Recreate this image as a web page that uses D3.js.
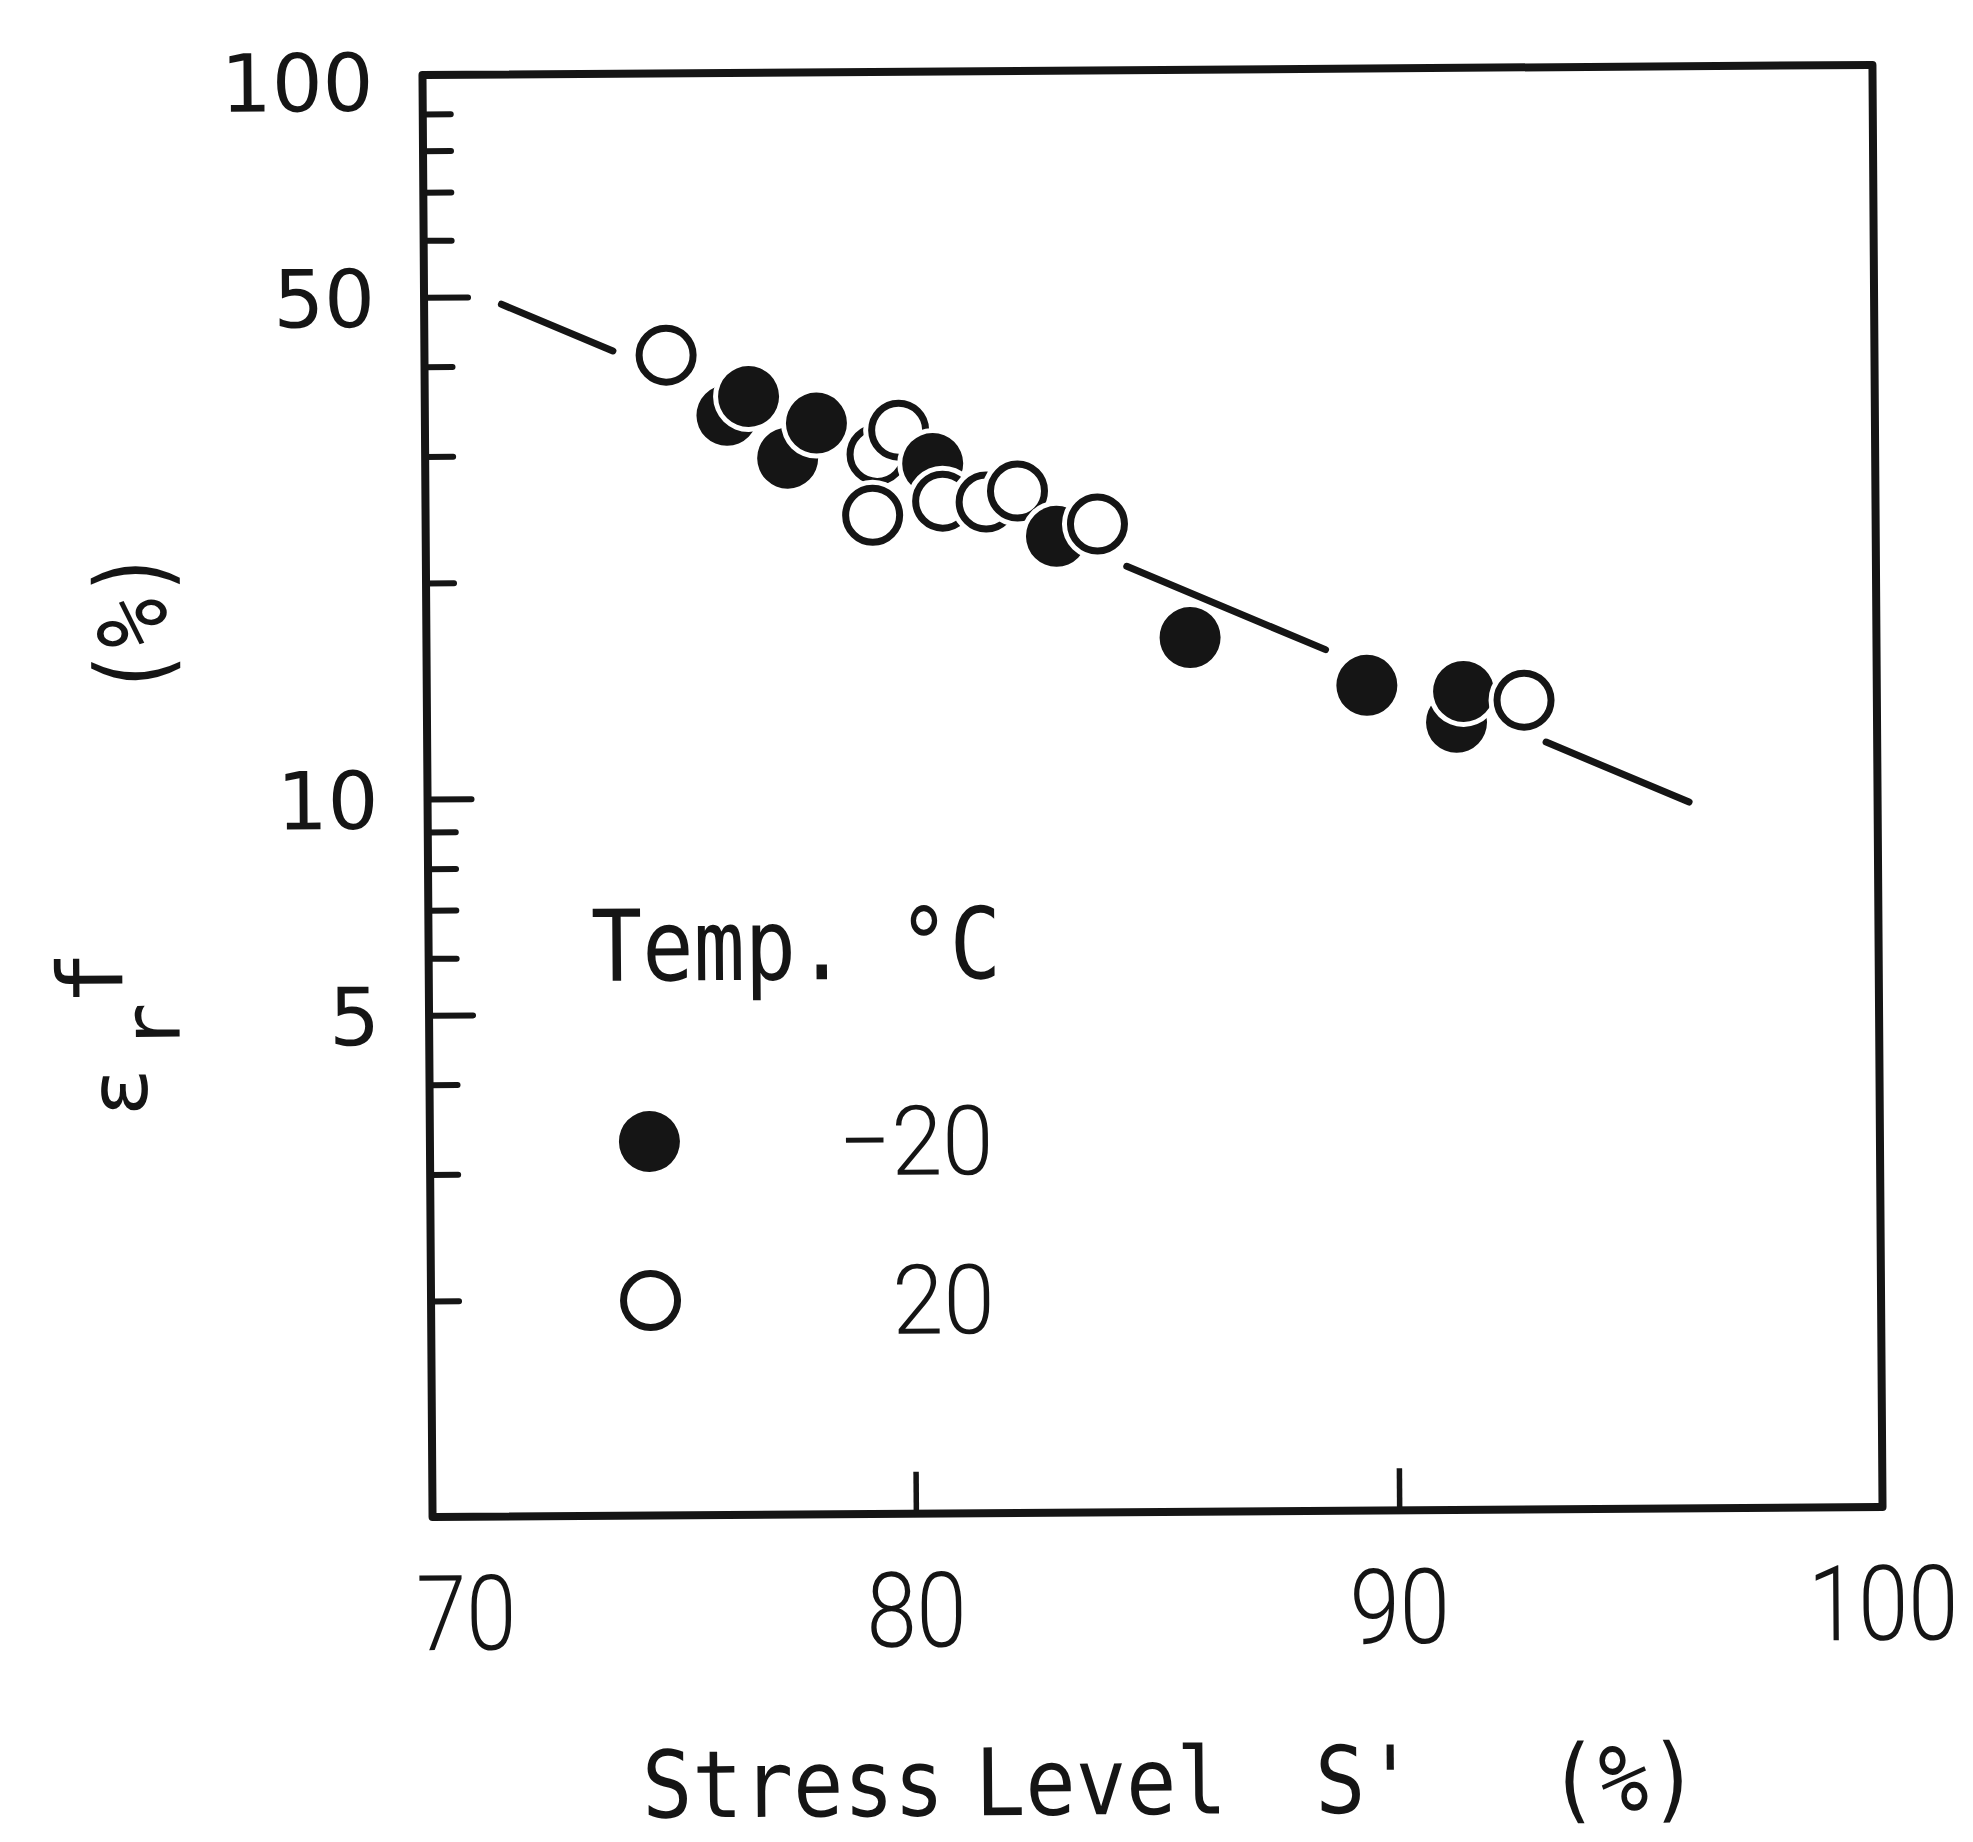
<!DOCTYPE html>
<html>
<head>
<meta charset="utf-8">
<script src="https://cdn.jsdelivr.net/npm/d3@7"></script>
<style>
  html, body { margin: 0; padding: 0; background: #ffffff; }
  svg { display: block; }
</style>
</head>
<body>
<svg id="chart" width="1973" height="1842"></svg>
<script>
// Final creep strain εr^f (%) against stress level S' (%), two test temperatures.

// -20 °C specimens
const coldStress = [76.7, 76.25, 78.1, 77.5, 80.5, 83.05, 85.8, 89.45, 91.45, 91.3];
const coldStrain = [36.1, 34.0, 33.1, 29.6, 29.0, 22.9, 16.5, 14.1, 13.8, 12.5];

// 20 °C specimens
const warmStress = [75.0, 79.8, 79.35, 79.25, 80.7, 81.6, 82.25, 83.9, 92.7];
const warmStrain = [41.3, 32.3, 29.9, 24.6, 25.7, 25.6, 26.5, 23.8, 13.4];

// fitted line (log-linear) and the stretches where it is interrupted by the symbols
const fitStress = [71.6, 96.1];
const fitStrain = [48.8, 9.63];
const fitGaps = [[73.9, 84.5], [88.6, 93.15]];

// axes
const xTickLabels = [70, 80, 90, 100];
const xInnerTicks = [80, 90];
const yTickLabels = [5, 10, 50, 100];
const yMajorTicks = [5, 10, 50];
const yMinorTicks = [2, 3, 4, 6, 7, 8, 9, 20, 30, 40, 60, 70, 80, 90];

// legend
const legendTitle = "Temp. °C";
const legendLabels = ["−20", "20"];

const ink = "#151515";
const mono = "'DejaVu Sans Mono', 'Liberation Mono', monospace";
const digits = "Roboto, 'DejaVu Sans', sans-serif";
const sans = "'DejaVu Sans', 'Noto Sans', sans-serif";

const frame = { left: 427.5, right: 1877.5, top: 70, bottom: 1512 };

const x = d3.scaleLinear().domain([70, 100]).range([frame.left, frame.right]);
const y = d3.scaleLog().domain([1, 100]).range([frame.bottom, 76]);

const svg = d3.select("#chart");
svg.append("rect").attr("width", 1973).attr("height", 1842).attr("fill", "#ffffff");

// the whole sheet sits very slightly askew
const root = svg.append("g").attr("transform", "rotate(-0.4 1152.5 791)");

// text helper: the typewriter lettering is narrower than the font, so squeeze it
function label(parent, px, py, str, o) {
  const g = parent.append("g")
    .attr("transform", `translate(${px},${py}) rotate(${o.rotate || 0}) scale(${o.sx || 1},1)`);
  g.append("text")
    .attr("x", 0).attr("y", 0)
    .attr("text-anchor", o.anchor || "start")
    .attr("font-family", o.family || mono)
    .attr("font-weight", o.weight || 400)
    .attr("font-size", o.size)
    .attr("fill", ink)
    .text(str);
  return g;
}

// ---- y axis ticks (pointing into the plot) ----
const yMajor = d3.axisLeft(y).tickValues(yMajorTicks).tickSize(-44).tickFormat("");
const yMinor = d3.axisLeft(y).tickValues(yMinorTicks).tickSize(-28).tickFormat("");
[yMajor, yMinor].forEach(ax => {
  const g = root.append("g").attr("transform", `translate(${frame.left},0)`).call(ax);
  g.select(".domain").remove();
  g.selectAll(".tick line").attr("stroke", ink).attr("stroke-width", 6).attr("stroke-linecap", "round");
});

// y tick labels
const yLab = d3.axisLeft(y).tickValues(yTickLabels).tickSize(0).tickPadding(49)
  .tickFormat(d3.format("d"));
const yLabG = root.append("g").attr("transform", `translate(${frame.left},0)`).call(yLab);
yLabG.select(".domain").remove();
yLabG.selectAll(".tick text")
  .attr("font-family", sans).attr("font-size", 80).attr("fill", ink)
  .attr("dy", "0.36em");

// ---- x axis ticks (pointing up from the bottom edge) ----
const xAx = d3.axisBottom(x).tickValues(xInnerTicks).tickSize(-42).tickFormat("");
const xG = root.append("g").attr("transform", `translate(0,${frame.bottom})`).call(xAx);
xG.select(".domain").remove();
xG.selectAll(".tick line").attr("stroke", ink).attr("stroke-width", 5.5);

// x tick labels
xTickLabels.forEach((v, i) => {
  const first = i === 0;
  label(root, first ? x(v) - 17 : x(v), 1645, String(v),
    { size: 105, sx: 0.86, anchor: first ? "start" : "middle", family: digits, weight: 300 });
});

// ---- frame ----
root.append("rect")
  .attr("x", frame.left).attr("y", frame.top)
  .attr("width", frame.right - frame.left).attr("height", frame.bottom - frame.top)
  .attr("fill", "none").attr("stroke", ink).attr("stroke-width", 8)
  .attr("stroke-linejoin", "round");

// ---- fitted line, broken where it runs through the symbols ----
const fitAt = s => {
  const t = (s - fitStress[0]) / (fitStress[1] - fitStress[0]);
  return Math.pow(10, Math.log10(fitStrain[0]) + t * (Math.log10(fitStrain[1]) - Math.log10(fitStrain[0])));
};
const pieces = [];
let start = fitStress[0];
fitGaps.forEach(([a, b]) => { pieces.push([start, a]); start = b; });
pieces.push([start, fitStress[1]]);
root.append("g").selectAll("line").data(pieces).join("line")
  .attr("x1", d => x(d[0])).attr("y1", d => y(fitAt(d[0])))
  .attr("x2", d => x(d[1])).attr("y2", d => y(fitAt(d[1])))
  .attr("stroke", ink).attr("stroke-width", 7).attr("stroke-linecap", "round");

// ---- symbols ----
const R = 30.5;
function symbol(parent, cx, cy, filled) {
  // white collar so each symbol masks the ones drawn before it
  parent.append("circle").attr("cx", cx).attr("cy", cy).attr("r", R + 5).attr("fill", "#ffffff");
  if (filled) {
    parent.append("circle").attr("cx", cx).attr("cy", cy).attr("r", R).attr("fill", ink);
  } else {
    parent.append("circle").attr("cx", cx).attr("cy", cy).attr("r", R - 3.5)
      .attr("fill", "#ffffff").attr("stroke", ink).attr("stroke-width", 7);
  }
}

const points = [
  ...coldStress.map((s, i) => ({ s, e: coldStrain[i], filled: true })),
  ...warmStress.map((s, i) => ({ s, e: warmStrain[i], filled: false }))
].map(p => ({ ...p, px: x(p.s), py: y(p.e) }));

// stacked from upper left to lower right along the trend
points.sort((a, b) => (a.px + 0.12 * a.py) - (b.px + 0.12 * b.py));

const marks = root.append("g");
points.forEach(p => symbol(marks, p.px, p.py, p.filled));

// ---- legend ----
label(root, 590, 977, legendTitle, { size: 99, sx: 0.86 });
const legendRows = [1138, 1297];
legendLabels.forEach((t, i) => {
  symbol(root, 647, legendRows[i], i === 0);
  label(root, 991, legendRows[i] + 35, t,
    { size: 97, sx: 0.95, anchor: "end", family: digits, weight: 300 });
});

// ---- axis titles ----
const titleWords = [["Stress", 635], ["Level", 968], ["S'", 1308], ["(%)", 1541]];
titleWords.forEach(([w, px]) => label(root, px, 1814, w, { size: 93, sx: 0.9 }));

label(root, 145, 1110, "ε", { size: 82, rotate: -90 });
label(root, 178, 1044, "r", { size: 80, rotate: -90 });
label(root, 121, 998, "f", { size: 90, rotate: -90 });
label(root, 168, 690, "(%)", { size: 100, sx: 0.82, rotate: -90 });
</script>
</body>
</html>
